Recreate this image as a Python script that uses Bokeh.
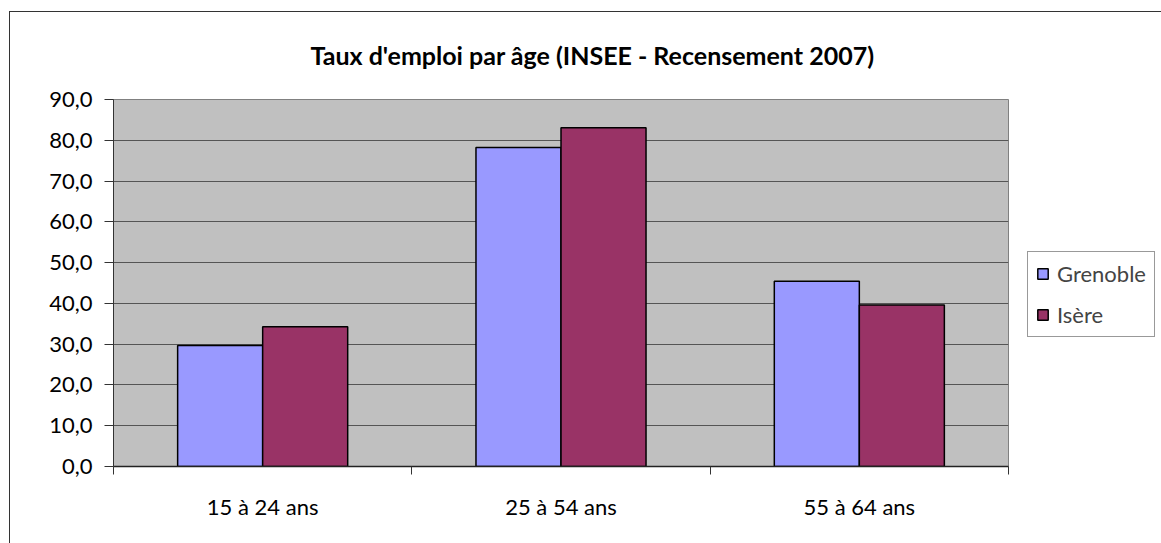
from bokeh.plotting import figure
from bokeh.models import (Range1d, LinearAxis, FixedTicker,
                          Legend, LegendItem, ColumnDataSource)
from bokeh.transform import dodge
from bokeh.embed import file_html
from bokeh.resources import INLINE

categories = ["15 à 24 ans", "25 à 54 ans", "55 à 64 ans"]
grenoble = [29.7, 78.2, 45.4]
isere = [34.3, 83.1, 39.6]
series_names = ["Grenoble", "Isère"]
series_colors = ["#9999FF", "#993366"]
y_ticks = [0, 10, 20, 30, 40, 50, 60, 70, 80, 90]
y_tick_labels = ["0,0", "10,0", "20,0", "30,0", "40,0", "50,0", "60,0", "70,0", "80,0", "90,0"]
title_text = "Taux d'emploi par âge (INSEE - Recensement 2007)"

FONT = "Lato"
FS = "22px"

n = len(categories)
centers = [i + 0.5 for i in range(n)]
src = ColumnDataSource(dict(pos=centers, cat=categories, grenoble=grenoble, isere=isere))

p = figure(x_range=Range1d(0, n), y_range=Range1d(0, 90),
           frame_width=895, frame_height=367, output_backend="svg", toolbar_location=None,
           x_axis_location=None, min_border_left=103, min_border_right=0,
           min_border_top=87, min_border_bottom=77,
           styles={"margin-left": "9px", "margin-top": "11px",
                   "border-left": "1px solid #333333", "border-top": "1px solid #333333"})

p.background_fill_color = "#C0C0C0"
p.border_fill_color = "white"
p.outline_line_color = "#808080"

p.title.text = title_text
p.title.align = "left"
p.title.vertical_align = "top"
p.title.text_font = FONT
p.title.text_font_style = "bold"
p.title.text_font_size = "25px"
p.title.text_color = "black"
p.title.offset = 197
p.title.standoff = 55

# y axis
p.yaxis.ticker = FixedTicker(ticks=y_ticks)
p.yaxis.major_label_overrides = dict(zip(y_ticks, y_tick_labels))
p.yaxis.major_tick_out = 9
p.yaxis.major_tick_in = 0
p.yaxis.minor_tick_line_color = None
p.yaxis.axis_line_color = "#333333"
p.yaxis.major_tick_line_color = "#333333"
p.yaxis.major_label_text_font = FONT
p.yaxis.major_label_text_font_size = FS
p.yaxis.major_label_text_color = "black"
p.yaxis.major_label_standoff = 12

p.xgrid.grid_line_color = None
p.ygrid.ticker = FixedTicker(ticks=y_ticks)
p.ygrid.grid_line_color = "#555555"
p.ygrid.grid_line_width = 1

# x axis: boundary ticks + category labels
ax_ticks = LinearAxis(ticker=FixedTicker(ticks=list(range(n + 1))),
                      major_tick_out=8, major_tick_in=0, minor_tick_line_color=None,
                      major_label_text_font_size="2px", major_label_text_color=None,
                      major_label_standoff=0,
                      axis_line_color="#222222", axis_line_width=1.5,
                      major_tick_line_color="#333333")
p.add_layout(ax_ticks, "below")
cat_axis = LinearAxis(ticker=FixedTicker(ticks=centers),
                      major_label_overrides=dict(zip(centers, categories)),
                      major_tick_line_color=None, minor_tick_line_color=None,
                      axis_line_color=None,
                      major_label_text_font=FONT, major_label_text_font_size=FS,
                      major_label_text_color="black", major_label_standoff=12)
p.add_layout(cat_axis, "below")

w = 0.285
r1 = p.vbar(x=dodge("pos", -w / 2), top="grenoble", width=w, source=src,
            fill_color=series_colors[0], line_color="black", line_width=1.5)
r2 = p.vbar(x=dodge("pos", w / 2), top="isere", width=w, source=src,
            fill_color=series_colors[1], line_color="black", line_width=1.5)

legend = Legend(items=[LegendItem(label=series_names[0], renderers=[r1]),
                       LegendItem(label=series_names[1], renderers=[r2])],
                location=(19, 129))
legend.glyph_width = 13
legend.glyph_height = 13
legend.label_text_font = FONT
legend.label_text_font_size = FS
legend.label_height = 26
legend.label_standoff = 8
legend.padding = 8
legend.spacing = 14
legend.margin = 0
legend.border_line_color = "#333333"
legend.border_line_width = 1
legend.background_fill_alpha = 1
p.add_layout(legend, "right")

open("out.html", "w").write(file_html(p, INLINE))
